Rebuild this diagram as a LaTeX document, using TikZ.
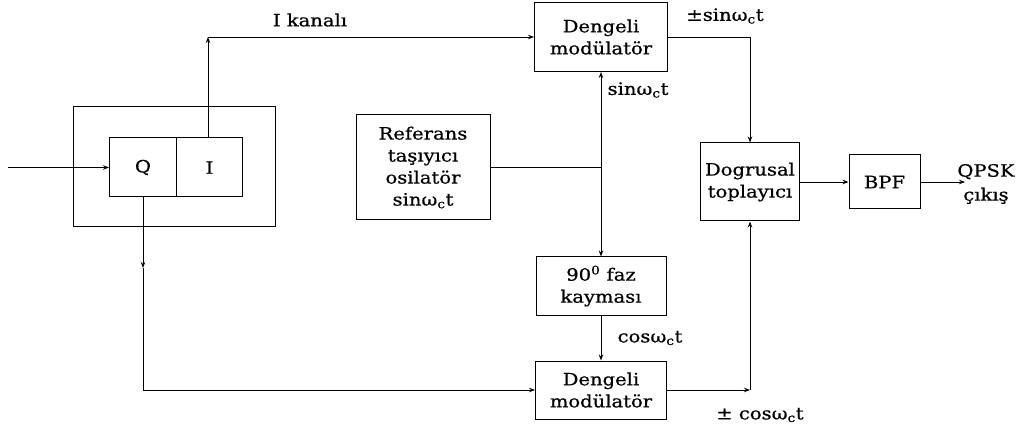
\documentclass[tikz,border=0pt]{standalone}
\usepackage{fontspec}
\setmainfont[FakeStretch=1.15,FakeBold=0.7]{DejaVu Serif}
\usetikzlibrary{arrows.meta}
\begin{document}
\begin{tikzpicture}[x=1pt,y=-1pt,
  txt/.style={font=\fontsize{17}{22}\selectfont},
  blk/.style={draw, line width=1pt, align=center, inner sep=0pt, txt},
  lbl/.style={inner sep=0pt, align=center, txt},
  wire/.style={line width=0.9pt},
  arr/.style={wire, -{Stealth[length=6pt,width=4.5pt]}},
]
\useasboundingbox (0,0) rectangle (1017,430);

% blocks
\node[blk, minimum width=202pt, minimum height=120pt] (frame) at (174,167) {};
\node[blk, minimum width=67pt, minimum height=59pt] (Q) at (143,167.5) {Q};
\node[blk, minimum width=66pt, minimum height=59pt] (I) at (209.5,167.5) {I};
\node[blk, minimum width=133pt, minimum height=69pt] (topmod) at (601,37) {Dengeli\\modülatör};
\node[blk, minimum width=134pt, minimum height=105pt] (ref) at (423,167.5) {Referans\\taşıyıcı\\osilatör\\sinω\textsubscript{c}t};
\node[blk, minimum width=130pt, minimum height=58pt] (faz) at (601,286) {90\textsuperscript{0} faz\\kayması};
\node[blk, minimum width=131pt, minimum height=58pt] (botmod) at (601,390) {Dengeli\\modülatör};
\node[blk, minimum width=99pt, minimum height=78pt] (dog) at (750,182) {Dogrusal\\toplayıcı};
\node[blk, minimum width=71pt, minimum height=54pt] (bpf) at (884.5,182) {BPF};

% corner and end points
\coordinate (in) at (8,167.5);
\coordinate (icorner) at (208,37);
\coordinate (qmid) at (143,268);
\coordinate (qcorner) at (143,390);
\coordinate (junc) at (601,167.5);
\coordinate (scorner) at (750,37);
\coordinate (ccorner) at (750,390);
\coordinate (out) at (965,182);

% connectors
\draw[arr] (in) -- (Q.west);
\draw[arr] (I.north -| icorner) -- (icorner);
\draw[arr] (icorner) -- (topmod.west);
\draw[arr] (Q.south) -- (qmid);
\draw[arr] (qmid) -- (qcorner) -- (botmod.west);
\draw[wire] (ref.east) -- (junc);
\draw[arr] (junc) -- (topmod.south);
\draw[arr] (junc) -- (faz.north);
\draw[arr] (faz.south) -- (botmod.north);
\draw[arr] (topmod.east) -- (scorner) -- (dog.north);
\draw[arr] (botmod.east) -- (ccorner);
\draw[arr] (ccorner) -- (dog.south);
\draw[arr] (dog.east) -- (bpf.west);
\draw[arr] (bpf.east) -- (out);

% signal labels
\node[lbl] (lI) at (310,20) {I kanalı};
\node[lbl] (lsin1) at (725,16) {±sinω\textsubscript{c}t};
\node[lbl] (lsin2) at (638,90) {sinω\textsubscript{c}t};
\node[lbl] (lcos1) at (650,338) {cosω\textsubscript{c}t};
\node[lbl] (lcos2) at (760,415) {± cosω\textsubscript{c}t};
\node[lbl, font=\fontsize{17}{24}\selectfont] (lout) at (986,184) {QPSK\\çıkış};
\end{tikzpicture}
\end{document}
